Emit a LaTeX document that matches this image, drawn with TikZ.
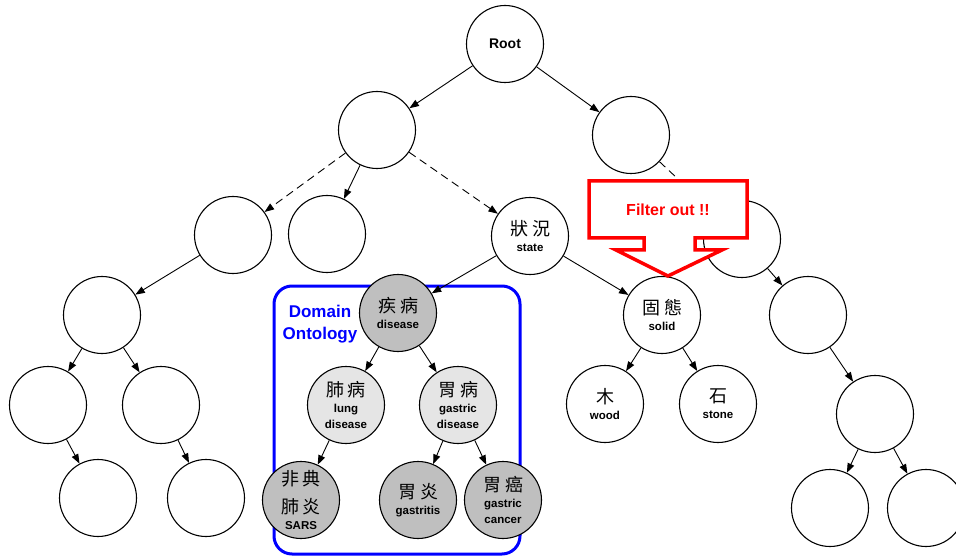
\documentclass[tikz,border=0pt]{standalone}
\usepackage{fontspec}
\setmainfont{Liberation Sans}
\newfontfamily\cjk{Noto Sans CJK TC}
\usetikzlibrary{arrows.meta}
\definecolor{darkfill}{gray}{0.75}
\definecolor{lightfill}{gray}{0.9}
\newcommand{\zh}[1]{{\cjk\mdseries\fontsize{18}{16}\selectfont #1}}
\newcommand{\zhgap}{\hspace{4pt}}
\begin{document}
\begin{tikzpicture}[x=1pt,y=-1pt,
  circ/.style={circle,draw=black,line width=1.1pt,minimum size=77pt,inner sep=0pt,fill=white,align=center,
    font=\bfseries\fontsize{11.5}{16}\selectfont},
  darkc/.style={circ,fill=darkfill},
  lightc/.style={circ,fill=lightfill},
  edge/.style={line width=0.9pt,-{Triangle[length=9.5pt,width=7pt]}},
  dedge/.style={edge,dash pattern=on 8pt off 5pt},
]
\useasboundingbox (0,0) rectangle (956,556);
% domain box
\node (domainbox) [draw=blue,line width=3pt,rounded corners=18pt,minimum width=246pt,minimum height=268pt,inner sep=0pt] at (397,420) {};
% nodes
\node[circ,font=\bfseries\fontsize{14}{16}\selectfont] (root) at (505,44) {Root};
\node[circ] (l1l) at (377,130) {};
\node[circ] (l1r) at (631,135) {};
\node[circ] (a) at (233,235) {};
\node[circ] (b) at (327,234) {};
\node[circ] (state) at (530,236) {\zh{狀\zhgap 況}\\ state};
\node[circ] (c) at (742,239) {};
\node[circ] (d) at (102,315) {};
\node[circ] (e) at (48,405) {};
\node[circ] (f) at (161,405) {};
\node[circ] (g) at (98,498) {};
\node[circ] (h) at (206,498) {};
\node[darkc] (disease) at (398,313) {\zh{疾\zhgap 病}\\ disease};
\node[lightc] (lung) at (346,405) {\zh{肺\zhgap 病}\\ lung\\ disease};
\node[lightc] (gastric) at (458,405) {\zh{胃\zhgap 病}\\ gastric\\ disease};
\node[darkc] (sars) at (301,500) {\zh{非\zhgap 典}\\[10pt]\zh{肺\zhgap 炎}\\ SARS};
\node[darkc] (gastritis) at (418,500) {\zh{胃\zhgap 炎}\\ gastritis};
\node[darkc] (cancer) at (503,500) {\zh{胃\zhgap 癌}\\ gastric\\ cancer};
\node[circ] (solid) at (662,315) {\zh{固\zhgap 態}\\ solid};
\node[circ] (wood) at (605,404) {\zh{木}\\ wood};
\node[circ] (stone) at (718,404) {\zh{石}\\ stone};
\node[circ] (i) at (808,315) {};
\node[circ] (j) at (875,414) {};
\node[circ] (k) at (830,508) {};
\node[circ] (l) at (926,508) {};
% edges
\draw[edge] (root) -- (l1l);
\draw[edge] (root) -- (l1r);
\draw[dedge] (l1l) -- (a);
\draw[edge] (l1l) -- (b);
\draw[dedge] (l1l) -- (state);
\draw[dedge] (l1r) -- (c);
\draw[edge] (a) -- (d);
\draw[edge] (d) -- (e);
\draw[edge] (d) -- (f);
\draw[edge] (e) -- (g);
\draw[edge] (f) -- (h);
\draw[edge] (state) -- (disease);
\draw[edge] (state) -- (solid);
\draw[edge] (disease) -- (lung);
\draw[edge] (disease) -- (gastric);
\draw[edge] (lung) -- (sars);
\draw[edge] (gastric) -- (gastritis);
\draw[edge] (gastric) -- (cancer);
\draw[edge] (solid) -- (wood);
\draw[edge] (solid) -- (stone);
\draw[edge] (c) -- (i);
\draw[edge] (i) -- (j);
\draw[edge] (j) -- (k);
\draw[edge] (j) -- (l);
% domain label
\node (domlabel) [text=blue,align=center,font=\bfseries\fontsize{17}{22}\selectfont,inner sep=0pt] at (320,324) {Domain\\Ontology};
% callout
\draw[red,line width=3.5pt,fill=white,line join=miter]
  (589,181) -- (747,181) -- (747,238) -- (695,238) -- (695,250) -- (722,250) -- (668,276)
  -- (616,250) -- (644,250) -- (644,238) -- (589,238) -- cycle;
\node (filter) [text=red,font=\bfseries\fontsize{16}{18}\selectfont] at (668,210) {Filter out !!};
\end{tikzpicture}
\end{document}
